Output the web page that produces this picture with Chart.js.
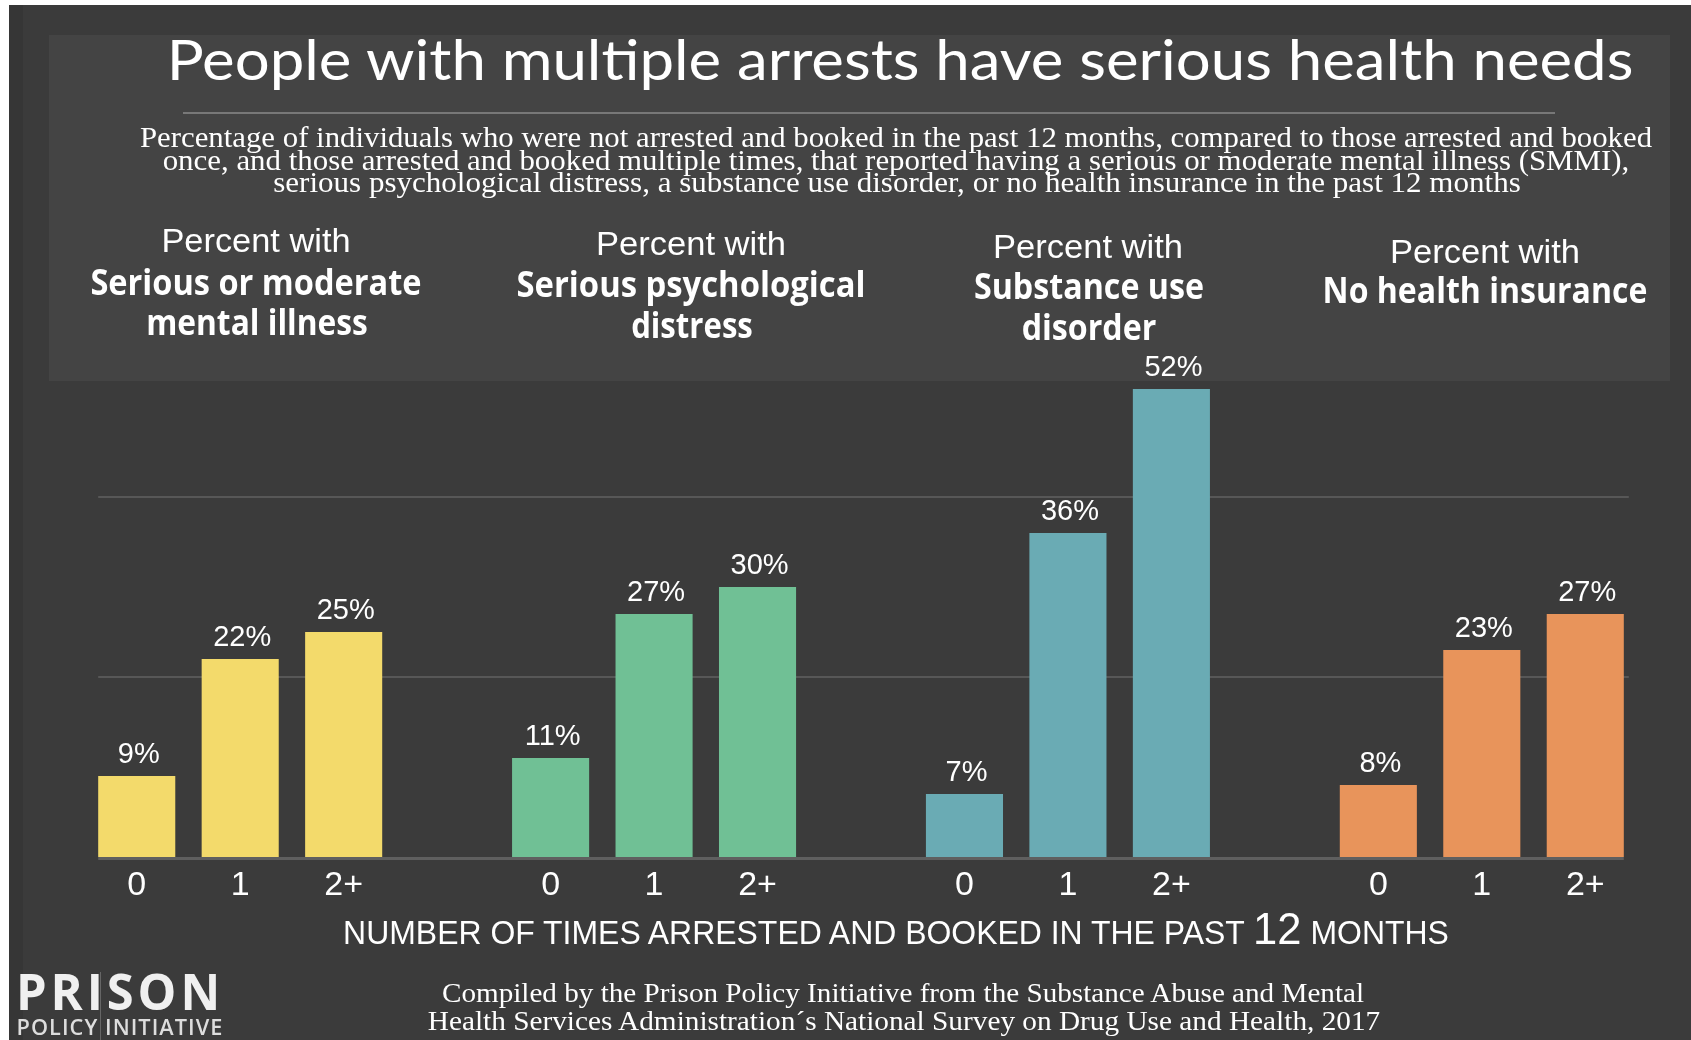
<!DOCTYPE html>
<html>
<head>
<meta charset="utf-8">
<title>People with multiple arrests have serious health needs</title>
<script src="https://cdn.jsdelivr.net/npm/chart.js@4.4.1/dist/chart.umd.min.js"></script>
<style>
  html, body { margin: 0; padding: 0; }
  body {
    width: 1691px; height: 1040px; position: relative; overflow: hidden;
    background: #fff; color: #fff;
    font-family: "Liberation Sans", Arial, sans-serif;
  }
  #bg { position: absolute; left: 9px; top: 5px; right: 0; bottom: 0; background: #3b3b3b; }
  #edge { position: absolute; left: 9px; top: 5px; width: 14px; bottom: 0; background: #363636; }
  #panel { position: absolute; left: 49px; top: 35px; width: 1621px; height: 346px; background: #444; }
  #rule { position: absolute; left: 183px; top: 112px; width: 1372px; height: 2px; background: #787878; }
  #logoBar { position: absolute; left: 100px; top: 972px; width: 1px; height: 68px; background: #666; }
  #chart { position: absolute; left: 0; top: 0; }
  .t { position: absolute; white-space: nowrap; transform: translateX(-50%); }
  .title { font-family: Lato, sans-serif; font-size: 57px; line-height: 57px; }
  .sub { font-family: "Liberation Serif", serif; font-size: 29px; line-height: 29px; }
  .lead { font-family: "Liberation Sans Narrow", "Liberation Sans", sans-serif; font-size: 34px; line-height: 34px; }
  .bold { font-family: "Open Sans", sans-serif; font-weight: 700; font-size: 36px; line-height: 36px; }
  .axis { font-family: "Liberation Sans Narrow", "Liberation Sans", sans-serif; font-size: 33px; line-height: 33px; }
  .axis span { font-size: 45px; line-height: 0; }
  .foot { font-family: "Liberation Serif", serif; font-size: 28px; line-height: 28px; }
  .logo { font-family: "Open Sans", sans-serif; font-weight: 700; font-size: 50px; line-height: 50px; letter-spacing: 4px; color: #f0f0f0; }
  .logo2 { font-family: "Open Sans", sans-serif; font-weight: 600; font-size: 21px; line-height: 21px; letter-spacing: 1px; color: #ddd; }
</style>
</head>
<body>
<div id="bg"></div>
<div id="edge"></div>
<div id="panel"></div>
<div id="rule"></div>
<canvas id="chart" width="1691" height="1040"></canvas>

<div class="t title" style="left:900px; top:30px" data-w="1467">People with multiple arrests have serious health needs</div>
<div class="t sub" style="left:896px; top:123px" data-w="1512">Percentage of individuals who were not arrested and booked in the past 12 months, compared to those arrested and booked</div>
<div class="t sub" style="left:896px; top:146px" data-w="1466">once, and those arrested and booked multiple times, that reported having a serious or moderate mental illness (SMMI),</div>
<div class="t sub" style="left:897px; top:168px" data-w="1248">serious psychological distress, a substance use disorder, or no health insurance in the past 12 months</div>

<div class="t lead" style="left:256px; top:223px" data-w="189">Percent with</div>
<div class="t bold" style="left:256px; top:264px" data-w="331">Serious or moderate</div>
<div class="t bold" style="left:257px; top:304px" data-w="222">mental illness</div>

<div class="t lead" style="left:691px; top:226px" data-w="190">Percent with</div>
<div class="t bold" style="left:691px; top:266px" data-w="349">Serious psychological</div>
<div class="t bold" style="left:692px; top:307px" data-w="122">distress</div>

<div class="t lead" style="left:1088px; top:229px" data-w="190">Percent with</div>
<div class="t bold" style="left:1089px; top:268px" data-w="230">Substance use</div>
<div class="t bold" style="left:1089px; top:309px" data-w="135">disorder</div>

<div class="t lead" style="left:1485px; top:234px" data-w="190">Percent with</div>
<div class="t bold" style="left:1485px; top:272px" data-w="325">No health insurance</div>

<div class="t axis" style="left:896px; top:916px" data-w="1105">NUMBER OF TIMES ARRESTED AND BOOKED IN THE PAST <span>12</span> MONTHS</div>

<div class="t foot" style="left:903px; top:979px" data-w="922">Compiled by the Prison Policy Initiative from the Substance Abuse and Mental</div>
<div class="t foot" style="left:904px; top:1007px" data-w="953">Health Services Administration´s National Survey on Drug Use and Health, 2017</div>

<div id="logoBar"></div>
<div class="t logo" style="left:120px; top:966px" data-w="208">PRISON</div>
<div class="t logo2" style="left:120px; top:1017px" data-w="207">POLICY INITIATIVE</div>

<script>
// arrest count buckets shown under each group of bars
const arrestCounts = ['0', '1', '2+'];

// percent of people in each bucket, one array per measure
const mentalIllness = [9, 22, 25];
const psychDistress = [11, 27, 30];
const substanceUse = [7, 36, 52];
const noInsurance = [8, 23, 27];

// horizontal guide lines
const gridValues = [20, 40];

const series = [mentalIllness, psychDistress, substanceUse, noInsurance];
const colors = ['#f3da6b', '#70c095', '#6aabb4', '#e8945b'];

// one category per bar, with an empty slot between groups
const labels = [];
series.forEach((s, g) => {
  arrestCounts.forEach(c => labels.push(c));
  if (g < series.length - 1) labels.push('');
});

const datasets = series.map((s, g) => {
  const data = labels.map(() => null);
  s.forEach((v, i) => { data[g * (arrestCounts.length + 1) + i] = v; });
  return {
    data: data,
    backgroundColor: colors[g],
    grouped: false,
    barPercentage: 0.745,
    categoryPercentage: 1,
  };
});

const barExtras = {
  id: 'barExtras',
  barSpan(chart) {
    const first = chart.getDatasetMeta(0).data[0];
    const lastMeta = chart.getDatasetMeta(chart.data.datasets.length - 1);
    const last = lastMeta.data[lastMeta.data.length - 1];
    return [first.x - first.width / 2, last.x + last.width / 2];
  },
  beforeDatasetsDraw(chart) {
    const { ctx, scales: { y } } = chart;
    const [x0, x1] = this.barSpan(chart);
    ctx.save();
    ctx.strokeStyle = '#575757';
    ctx.lineWidth = 2;
    gridValues.forEach(v => {
      const yy = Math.round(y.getPixelForValue(v));
      ctx.beginPath();
      ctx.moveTo(x0, yy);
      ctx.lineTo(x1 + 5, yy);
      ctx.stroke();
    });
    ctx.restore();
  },
  afterDatasetsDraw(chart) {
    const { ctx, scales: { y } } = chart;
    const [x0, x1] = this.barSpan(chart);
    ctx.save();
    // baseline under the bars
    ctx.strokeStyle = '#5f5f5f';
    ctx.lineWidth = 3;
    const y0 = y.getPixelForValue(0) + 1.5;
    ctx.beginPath();
    ctx.moveTo(x0, y0);
    ctx.lineTo(x1, y0);
    ctx.stroke();

    // value labels above each bar
    ctx.fillStyle = '#fff';
    ctx.font = '29px "Liberation Sans", Arial, sans-serif';
    ctx.textAlign = 'center';
    ctx.textBaseline = 'alphabetic';
    chart.data.datasets.forEach((ds, i) => {
      chart.getDatasetMeta(i).data.forEach((bar, j) => {
        if (ds.data[j] == null) return;
        ctx.fillText(ds.data[j] + '%', bar.x + 2, bar.y - 13);
      });
    });
    ctx.restore();
  }
};

new Chart(document.getElementById('chart'), {
  type: 'bar',
  data: { labels: labels, datasets: datasets },
  options: {
    responsive: false,
    animation: false,
    devicePixelRatio: 1,
    layout: { padding: { left: 85, right: 54, top: 317, bottom: 0 } },
    plugins: { legend: { display: false }, tooltip: { enabled: false } },
    scales: {
      x: {
        grid: { display: false, drawTicks: false },
        border: { display: false },
        ticks: {
          color: '#fff',
          font: { family: '"Liberation Sans Narrow", "Liberation Sans", Arial, sans-serif', size: 34 },
          padding: 8,
          maxRotation: 0,
          autoSkip: false,
        },
        afterFit(scale) { scale.height = 183; },
      },
      y: { display: false, min: 0, max: 60 },
    },
  },
  plugins: [barExtras],
});

// squeeze or stretch each text line to its intended width
function fitText() {
  document.querySelectorAll('[data-w]').forEach(el => {
    const k = Number(el.dataset.w) / el.offsetWidth;
    el.style.transform = 'translateX(-50%) scaleX(' + k.toFixed(3) + ')';
  });
}
document.fonts.ready.then(fitText);
</script>
</body>
</html>
